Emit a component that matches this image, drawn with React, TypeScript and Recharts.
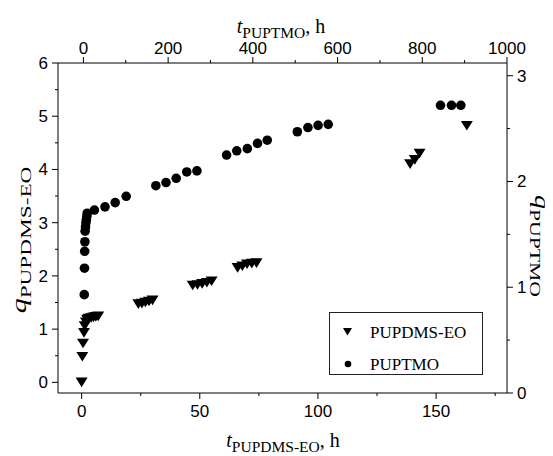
import { ScatterChart, Scatter, XAxis, YAxis, Legend, Label } from 'recharts'

// PUPDMS-EO: bottom time axis (h), left q axis
const pupdmsTime = [0, 0.3, 0.6, 1, 1.3, 1.8, 2.3, 3, 4, 5, 6, 7, 24, 25.5, 27, 28.5, 30, 47, 49, 51, 53, 55, 66, 68, 70, 72, 74, 139, 141, 143, 163]
const pupdmsQ = [0, 0.48, 0.73, 0.93, 1.06, 1.13, 1.18, 1.2, 1.21, 1.22, 1.23, 1.24, 1.47, 1.48, 1.5, 1.52, 1.54, 1.82, 1.83, 1.85, 1.87, 1.9, 2.15, 2.18, 2.22, 2.23, 2.24, 4.1, 4.18, 4.3, 4.82]

// PUPTMO: top time axis (h), right q axis
const puptmoTime = [2, 2.5, 3, 3.5, 4, 5, 6, 7, 8, 9, 26, 51, 75, 101, 171, 195, 219, 244, 268, 338, 362, 387, 411, 434, 505, 530, 554, 578, 843, 869, 891]
const puptmoQ = [0.93, 1.18, 1.34, 1.43, 1.53, 1.57, 1.61, 1.64, 1.67, 1.7, 1.73, 1.76, 1.8, 1.86, 1.96, 1.99, 2.03, 2.09, 2.1, 2.25, 2.29, 2.31, 2.36, 2.39, 2.47, 2.51, 2.53, 2.54, 2.72, 2.72, 2.72]

const bottomMajor = [0, 50, 100, 150]
const bottomMinor = [25, 75, 125, 175]
const topMajor = [0, 200, 400, 600, 800, 1000]
const topMinor = [100, 300, 500, 700, 900]
const leftMajor = [0, 1, 2, 3, 4, 5, 6]
const leftMinor = [0.5, 1.5, 2.5, 3.5, 4.5, 5.5]
const rightMajor = [0, 1, 2, 3]
const rightMinor = [0.5, 1.5, 2.5]

const pupdmsData = pupdmsTime.map((t, i) => ({ t, q: pupdmsQ[i] }))
const puptmoData = puptmoTime.map((t, i) => ({ t, q: puptmoQ[i] }))

// ---------------------------------------------------------------------------

const W = 545
const H = 448
const PLOT = { left: 50, top: 55, right: 499, bottom: 385 }
const SANS = '"Liberation Sans", Arial, sans-serif'
const SERIF = '"Liberation Serif", "Times New Roman", serif'
const TICK_FONT = 17
const MAJOR_LEN = 6
const MINOR_LEN = 3

// draws its own tick mark (long for labelled, short for minor) plus the label
function AxisTick(props: any) {
  const { payload, side, majorTicks } = props
  const v = payload.value
  const c = payload.coordinate
  const major = majorTicks.includes(v)
  const len = major ? MAJOR_LEN : MINOR_LEN
  const common = { fontFamily: SANS, fontSize: TICK_FONT, fill: '#000' }

  if (side === 'bottom') {
    const y0 = PLOT.bottom
    return (
      <g>
        <line x1={c} x2={c} y1={y0} y2={y0 + len} stroke="#000" />
        {major && <text x={c} y={y0 + 24} textAnchor="middle" {...common}>{v}</text>}
      </g>
    )
  }
  if (side === 'top') {
    const y0 = PLOT.top
    return (
      <g>
        <line x1={c} x2={c} y1={y0} y2={y0 - len} stroke="#000" />
        {major && <text x={c} y={y0 - 9} textAnchor="middle" {...common}>{v}</text>}
      </g>
    )
  }
  if (side === 'left') {
    const x0 = PLOT.left
    return (
      <g>
        <line x1={x0} x2={x0 - len} y1={c} y2={c} stroke="#000" />
        {major && <text x={x0 - 10} y={c + 6} textAnchor="end" {...common}>{v}</text>}
      </g>
    )
  }
  const x0 = PLOT.right
  return (
    <g>
      <line x1={x0} x2={x0 + len} y1={c} y2={c} stroke="#000" />
      {major && <text x={x0 + 10} y={c + 6} textAnchor="start" {...common}>{v}</text>}
    </g>
  )
}

function DownTriangle(props: any) {
  const { cx, cy } = props
  return <path d={`M${cx - 6},${cy - 4.8}L${cx + 6},${cy - 4.8}L${cx},${cy + 4.8}Z`} fill="#000" />
}

function Dot(props: any) {
  const { cx, cy } = props
  return <circle cx={cx} cy={cy} r={4.8} fill="#000" />
}

function AxisTitle({ x, y, rotate = 0, stretch = 1, main, sub, unit }: any) {
  return (
    <text
      x={0}
      y={0}
      textAnchor="middle"
      fontFamily={SERIF}
      fontSize={20}
      fill="#000"
      transform={`translate(${x}, ${y}) rotate(${rotate}) scale(${stretch}, 1)`}
    >
      <tspan fontStyle="italic">{main}</tspan>
      <tspan fontSize={15.5} dy={5}>{sub}</tspan>
      {unit && <tspan dy={-5}>{unit}</tspan>}
    </text>
  )
}

function LegendBox() {
  const rows = [
    { name: 'PUPDMS-EO', y: 19, marker: <path d="M13,15L22,15L17.5,22.5Z" fill="#000" /> },
    { name: 'PUPTMO', y: 51, marker: <circle cx={18} cy={51} r={3.3} fill="#000" /> },
  ]
  return (
    <div style={{ width: 154, height: 63, border: '1px solid #222', boxSizing: 'border-box', background: '#fff', position: 'relative' }}>
      <svg width={152} height={61} style={{ position: 'absolute', left: 0, top: 0 }}>
        {rows.map((r) => (
          <g key={r.name}>
            {r.marker}
            <text x={40} y={r.y + 5.5} fontFamily={SERIF} fontSize={17} fill="#000">{r.name}</text>
          </g>
        ))}
      </svg>
    </div>
  )
}

export default function App() {
  return (
    <ScatterChart width={W} height={H} margin={{ top: 0, right: 0, bottom: 0, left: 0 }}>
      <XAxis
        xAxisId="bottom"
        type="number"
        dataKey="t"
        orientation="bottom"
        domain={[-10, 180]}
        ticks={[...bottomMajor, ...bottomMinor]}
        interval={0}
        height={H - PLOT.bottom}
        tickLine={false}
        axisLine={{ stroke: '#000' }}
        tick={<AxisTick side="bottom" majorTicks={bottomMajor} />}
      >
        <Label content={() => <AxisTitle x={275} y={439} main="t" sub="PUPDMS-EO" unit=", h" />} />
      </XAxis>
      <XAxis
        xAxisId="top"
        type="number"
        dataKey="t"
        orientation="top"
        domain={[-60, 1000]}
        ticks={[...topMajor, ...topMinor]}
        interval={0}
        height={PLOT.top}
        tickLine={false}
        axisLine={{ stroke: '#000' }}
        tick={<AxisTick side="top" majorTicks={topMajor} />}
      >
        <Label content={() => <AxisTitle x={273} y={25} main="t" sub="PUPTMO" unit=", h" />} />
      </XAxis>
      <YAxis
        yAxisId="left"
        type="number"
        dataKey="q"
        orientation="left"
        domain={[-0.2, 6]}
        ticks={[...leftMajor, ...leftMinor]}
        interval={0}
        width={PLOT.left}
        tickLine={false}
        axisLine={{ stroke: '#000' }}
        tick={<AxisTick side="left" majorTicks={leftMajor} />}
      >
        <Label content={() => <AxisTitle x={18} y={232} rotate={-90} stretch={1.5} main="q" sub="PUPDMS-EO" />} />
      </YAxis>
      <YAxis
        yAxisId="right"
        type="number"
        dataKey="q"
        orientation="right"
        domain={[0, 3.12]}
        ticks={[...rightMajor, ...rightMinor]}
        interval={0}
        width={W - PLOT.right}
        tickLine={false}
        axisLine={{ stroke: '#000' }}
        tick={<AxisTick side="right" majorTicks={rightMajor} />}
      >
        <Label content={() => <AxisTitle x={527} y={238} rotate={90} stretch={1.4} main="q" sub="PUPTMO" />} />
      </YAxis>
      <Scatter name="PUPDMS-EO" data={pupdmsData} xAxisId="bottom" yAxisId="left" fill="#000" shape={DownTriangle} isAnimationActive={false} />
      <Scatter name="PUPTMO" data={puptmoData} xAxisId="top" yAxisId="right" fill="#000" shape={Dot} isAnimationActive={false} />
      <Legend
        layout="vertical"
        align="center"
        verticalAlign="middle"
        wrapperStyle={{ left: 321, top: 304, width: 154, height: 63 }}
        content={() => <LegendBox />}
      />
    </ScatterChart>
  )
}
